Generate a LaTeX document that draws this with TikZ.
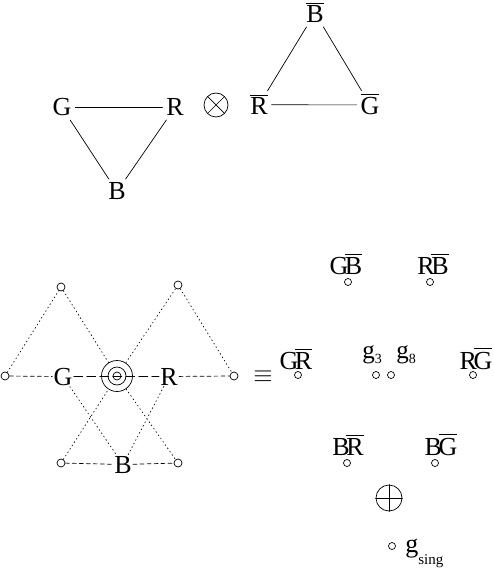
\documentclass[tikz,border=0pt]{standalone}
\usepackage{fontspec}
\setmainfont{Liberation Serif}
\newcommand{\anti}[1]{\vbox{\hrule height 0.8pt\kern2.5pt\hbox{#1}}}
\newcommand{\pair}[2]{#1\kern-3.5pt\anti{#2}}
\tikzset{
  every picture/.style={line join=round, line cap=round},
  lab/.style={inner sep=1pt, anchor=base, font=\fontsize{26}{30}\selectfont},
  wide/.style={inner sep=3.5pt},
  pt/.style={shape=circle, draw, inner sep=0pt, minimum size=8pt},
  dots/.style={dash pattern=on 1pt off 3pt},
  dsh/.style={dash pattern=on 4pt off 3pt},
  ldsh/.style={dash pattern=on 9pt off 4pt},
}

\begin{document}
\begin{tikzpicture}[x=1pt,y=-1pt,line width=0.7pt]
\useasboundingbox (0,0) rectangle (494,569);
% triplet times anti-triplet
\node[lab,wide] (G) at (62,116) {G};
\node[lab,wide] (R) at (175,116) {R};
\node[lab,wide] (B) at (117,200) {B};
\draw (G)--(R) (G)--(B) (R)--(B);
\node[shape=circle,draw,minimum size=24pt,inner sep=0pt] (otimes) at (216,105) {};
\draw (otimes.north east)--(otimes.south west)
(otimes.north west)--(otimes.south east);
\node[lab,wide] (aR) at (259,115) {\anti{R}};
\node[lab,wide] (aG) at (370,115) {\anti{G}};
\node[lab,wide] (aB) at (315,23) {\anti{B}};
\draw (aR)--(aG) (aR)--(aB) (aG)--(aB);
% weight diagram
\node[pt] (tl) at (61,287) {};
\node[pt] (tr) at (178,285) {};
\node[pt] (l) at (5,376) {};
\node[pt] (r) at (234,376) {};
\node[pt] (bl) at (61,463) {};
\node[pt] (br) at (178,463) {};
\node[shape=circle,draw,minimum size=31pt,inner sep=0pt] (c) at (117,376) {};
\draw (c) circle (9pt) (c) circle (4pt);
\node[lab] (bG) at (63,385) {G};
\node[lab] (bR) at (169,385) {R};
\node[lab] (bB) at (123,473) {B};
\draw[dsh] (l)--(bG) (bR)--(r) (bl)--(bB)--(br);
\draw[ldsh] (bG)--(bR);
\draw[dots] (l)--(tl)--(c)--(tr)--(r) (bl)--(c)--(br) (bG)--(bB)--(bR);
\node[lab] (eq) at (263,382) {$\equiv$};
% octet and singlet
\node[pt,minimum size=7pt] (gb) at (348,282) {};
\node[pt,minimum size=7pt] (rb) at (430,282) {};
\node[pt,minimum size=7pt] (gr) at (298,375) {};
\node[pt,minimum size=7pt] (g3) at (376,375) {};
\node[pt,minimum size=7pt] (g8) at (391,375) {};
\node[pt,minimum size=7pt] (rg) at (473,375) {};
\node[pt,minimum size=7pt] (br2) at (347,463) {};
\node[pt,minimum size=7pt] (bg) at (435,463) {};
\node[pt,minimum size=7pt] (gs) at (392,546) {};
\node[lab] (lgb) at (346,274) {\pair{G}{B}};
\node[lab] (lrb) at (433,274) {\pair{R}{B}};
\node[lab] (lgr) at (296,369) {\pair{G}{R}};
\node[lab] (lrg) at (476,369) {\pair{R}{G}};
\node[lab] (lbr) at (348,455) {\pair{B}{R}};
\node[lab] (lbg) at (441,455) {\pair{B}{G}};
\node[lab,anchor=base west,inner sep=0pt] (lg3) at (362,358)
{\fontsize{25}{28}\selectfont g\raisebox{-5pt}{\fontsize{14}{16}\selectfont 3}};
\node[lab,anchor=base west,inner sep=0pt] (lg8) at (396,358)
{\fontsize{25}{28}\selectfont g\raisebox{-5pt}{\fontsize{14}{16}\selectfont 8}};
\node[shape=circle,draw,minimum size=26pt,inner sep=0pt] (oplus) at (389,498) {};
\draw (oplus.north)--(oplus.south) (oplus.west)--(oplus.east);
\node[lab,anchor=base west,inner sep=0pt] (lgs) at (405,552)
{g\raisebox{-12pt}{\fontsize{15}{17}\selectfont sing}};
\end{tikzpicture}
\end{document}
